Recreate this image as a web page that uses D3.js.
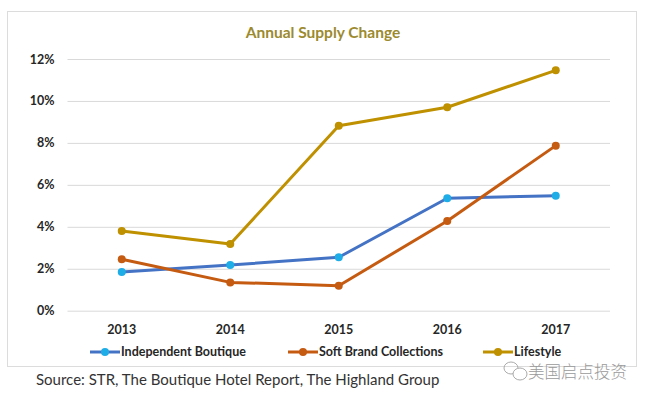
<!DOCTYPE html>
<html>
<head>
<meta charset="utf-8">
<script src="https://cdn.jsdelivr.net/npm/d3@7"></script>
<style>
  body { margin: 0; background: #fff; }
  svg { display: block; }
</style>
</head>
<body>
<div id="chart"></div>
<script>
const years = ["2013", "2014", "2015", "2016", "2017"];
const independent = [1.85, 2.18, 2.55, 5.36, 5.48];
const softBrand = [2.45, 1.35, 1.19, 4.28, 7.87];
const lifestyle = [3.80, 3.18, 8.82, 9.70, 11.46];
const yTicks = [0, 2, 4, 6, 8, 10, 12];
const seriesNames = ["Independent Boutique", "Soft Brand Collections", "Lifestyle"];

const width = 650,
    height = 400,
    margin = ({ top: 59, right: 40, bottom: 89.3, left: 67.5 });

const series = [
    { name: seriesNames[0], values: independent, line: "#4472C4", dot: "#1EADE6" },
    { name: seriesNames[1], values: softBrand, line: "#C55A11", dot: "#C55A11" },
    { name: seriesNames[2], values: lifestyle, line: "#BF9000", dot: "#BF9000" }
];

const svg = d3.select("#chart")
    .append("svg")
    .attr("width", width)
    .attr("height", height)
    .attr("viewBox", [0, 0, width, height]);

// chart frame
svg.append("rect")
    .attr("x", 7.5).attr("y", 11.5)
    .attr("width", 629).attr("height", 355)
    .attr("fill", "#fff")
    .attr("stroke", "#dcdcdc");

svg.append("text")
    .attr("x", 323).attr("y", 38)
    .attr("text-anchor", "middle")
    .attr("font-family", "Lato, sans-serif")
    .attr("font-weight", "bold")
    .attr("font-size", 15.5)
    .attr("fill", "#9C8A2E")
    .text("Annual Supply Change");

let x = d3.scaleBand()
    .domain(years)
    .range([margin.left, width - margin.right]);

let y = d3.scaleLinear()
    .domain([0, 12])
    .range([height - margin.bottom, margin.top]);

const xc = d => x(d) + x.bandwidth() / 2;

// gridlines + y labels
const yAxis = svg.append("g")
    .attr("transform", `translate(${margin.left},0)`)
    .call(d3.axisLeft(y).tickValues(yTicks)
        .tickSize(-(width - margin.left - margin.right))
        .tickPadding(13)
        .tickFormat(d => d + "%"));
yAxis.select(".domain").remove();
yAxis.selectAll("line").attr("stroke", "#d9d9d9");
yAxis.selectAll("text")
    .attr("font-family", "Lato, sans-serif")
    .attr("font-weight", "bold")
    .attr("font-size", 12.5)
    .attr("fill", "#262626");

const xAxis = svg.append("g")
    .attr("transform", `translate(0,${height - margin.bottom})`)
    .call(d3.axisBottom(x).tickSize(0).tickPadding(14));
xAxis.select(".domain").remove();
xAxis.selectAll("text")
    .attr("font-family", "Lato, sans-serif")
    .attr("font-weight", "bold")
    .attr("font-size", 12.5)
    .attr("fill", "#262626");

const line = d3.line()
    .x((d, i) => xc(years[i]))
    .y(d => y(d));

for (let s of series) {
    svg.append("path")
        .datum(s.values)
        .attr("fill", "none")
        .attr("stroke", s.line)
        .attr("stroke-width", 3)
        .attr("stroke-linejoin", "round")
        .attr("d", line);

    svg.append("g")
        .selectAll("circle")
        .data(s.values)
        .join("circle")
        .attr("cx", (d, i) => xc(years[i]))
        .attr("cy", d => y(d))
        .attr("r", 4)
        .attr("fill", s.dot);
}

// legend
const legendX = [90, 288, 483];
const legend = svg.append("g")
    .selectAll("g")
    .data(series)
    .join("g")
    .attr("transform", (d, i) => `translate(${legendX[i]},352)`);

legend.append("line")
    .attr("x1", 0).attr("x2", 30)
    .attr("stroke", d => d.line)
    .attr("stroke-width", 3);
legend.append("circle")
    .attr("cx", 15).attr("r", 4)
    .attr("fill", d => d.dot);
legend.append("text")
    .attr("x", 31).attr("dy", "0.35em")
    .attr("font-family", "Lato, sans-serif")
    .attr("font-weight", "bold")
    .attr("font-size", 12.5)
    .attr("fill", "#262626")
    .text(d => d.name);

svg.append("text")
    .attr("x", 36).attr("y", 385)
    .attr("font-family", "Lato, sans-serif")
    .attr("font-size", 15)
    .attr("fill", "#333")
    .text("Source:  STR, The Boutique Hotel Report, The Highland Group");

// watermark
const wm = svg.append("g").attr("fill", "none").attr("stroke", "#aaa").attr("stroke-width", 1);
wm.append("ellipse").attr("cx", 511).attr("cy", 368).attr("rx", 7).attr("ry", 6);
wm.append("ellipse").attr("cx", 520).attr("cy", 374).attr("rx", 7).attr("ry", 6).attr("fill", "#fff");
svg.append("text")
    .attr("x", 528).attr("y", 378)
    .attr("font-family", "'Noto Sans CJK SC', sans-serif")
    .attr("font-weight", 300)
    .attr("font-size", 16.5)
    .attr("fill", "#9a9a9a")
    .text("美国启点投资");
</script>
</body>
</html>
